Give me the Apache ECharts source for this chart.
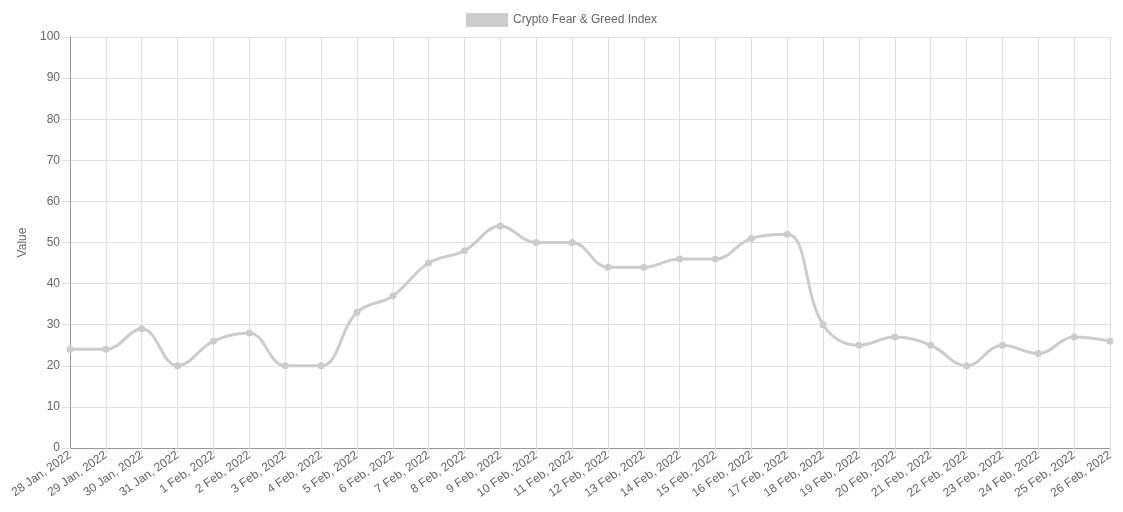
<!DOCTYPE html>
<html><head><meta charset="utf-8">
<script src="https://cdn.jsdelivr.net/npm/echarts@6/dist/echarts.min.js"></script>
<style>html,body{margin:0;padding:0;background:#fff}#c{width:1123px;height:512px}</style>
</head><body><div id="c"></div>
<script>
const categories = ["28 Jan, 2022","29 Jan, 2022","30 Jan, 2022","31 Jan, 2022","1 Feb, 2022","2 Feb, 2022","3 Feb, 2022","4 Feb, 2022","5 Feb, 2022","6 Feb, 2022","7 Feb, 2022","8 Feb, 2022","9 Feb, 2022","10 Feb, 2022","11 Feb, 2022","12 Feb, 2022","13 Feb, 2022","14 Feb, 2022","15 Feb, 2022","16 Feb, 2022","17 Feb, 2022","18 Feb, 2022","19 Feb, 2022","20 Feb, 2022","21 Feb, 2022","22 Feb, 2022","23 Feb, 2022","24 Feb, 2022","25 Feb, 2022","26 Feb, 2022"];
const values = [24,24,29,20,26,28,20,20,33,37,45,48,54,50,50,44,44,46,46,51,52,30,25,27,25,20,25,23,27,26];
const seriesName = "Crypto Fear & Greed Index";
const yAxisName = "Value";

const chart = echarts.init(document.getElementById('c'));
const font = 'Liberation Sans, Arial, Helvetica, sans-serif';
chart.setOption({
  animation: false,
  textStyle: {fontFamily: font},
  legend: {
    top: 13, left: 'center', itemWidth: 42, itemHeight: 14, itemGap: 6,
    icon: 'rect', padding: 0,
    textStyle: {color: '#666', fontSize: 12, fontFamily: font},
    data: [{name: seriesName, itemStyle: {color: '#cccccc'}}]
  },
  grid: {left: 70, right: 13, top: 37, bottom: 64, containLabel: false},
  xAxis: {
    type: 'category', data: categories, boundaryGap: false,
    axisLine: {show: true, lineStyle: {color: '#999', width: 1}},
    axisTick: {show: true, length: 6, alignWithLabel: true, lineStyle: {color: '#ddd'}},
    splitLine: {show: true, lineStyle: {color: '#e0e0e0', width: 1}},
    axisLabel: {rotate: 35, interval: 0, color: '#666', fontSize: 12, fontFamily: font, margin: 6}
  },
  yAxis: {
    type: 'value', min: 0, max: 100, interval: 10,
    name: yAxisName, nameLocation: 'middle', nameGap: 41, nameRotate: 90,
    nameTextStyle: {color: '#666', fontSize: 12, fontFamily: font},
    axisLine: {show: true, lineStyle: {color: '#999', width: 1}},
    axisTick: {show: true, length: 8, lineStyle: {color: '#ddd'}},
    splitLine: {show: true, lineStyle: {color: '#e0e0e0', width: 1}},
    axisLabel: {color: '#666', fontSize: 12, fontFamily: font, margin: 10}
  },
  series: [{
    name: seriesName, type: 'line', data: values, smooth: 0.4,
    symbol: 'circle', symbolSize: 7,
    lineStyle: {color: '#cccccc', width: 3},
    itemStyle: {color: '#cccccc'}
  }]
});
</script></body></html>
